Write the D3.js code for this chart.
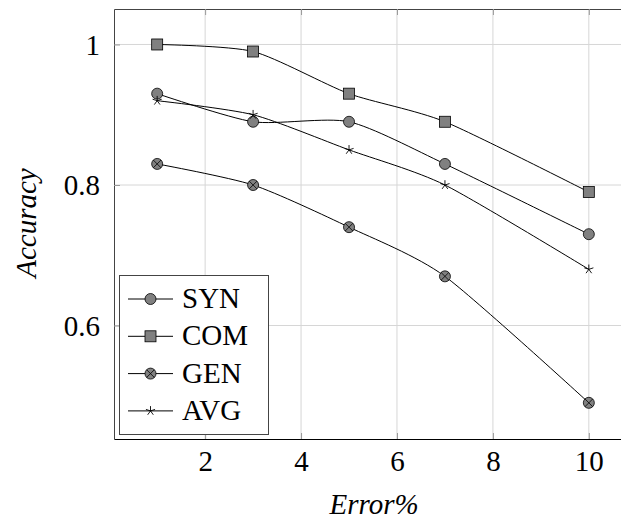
<!DOCTYPE html>
<html>
<head>
<meta charset="utf-8">
<script src="https://cdn.jsdelivr.net/npm/d3@7"></script>
<style>
body { margin: 0; background: #fff; }
</style>
</head>
<body>
<div id="chart"></div>
<script>
// values
const errors = [1, 3, 5, 7, 10];
const syn = [0.93, 0.89, 0.89, 0.83, 0.73];
const com = [1.0, 0.99, 0.93, 0.89, 0.79];
const gen = [0.83, 0.80, 0.74, 0.67, 0.49];
const avg = [0.92, 0.90, 0.85, 0.80, 0.68];
const names = ["SYN", "COM", "GEN", "AVG"];
const xTicks = [2, 4, 6, 8, 10];
const yTicks = [0.6, 0.8, 1];

const w = 621, h = 520;
const padL = 114, padT = 9, padR = 632, padB = 439;
const serif = "'Liberation Serif', 'DejaVu Serif', serif";
const fs = 29;

const svg = d3.select("#chart").append("svg")
    .attr("width", w)
    .attr("height", h);

const xScale = d3.scaleLinear().domain([0.1, 10.9]).range([padL, padR]);
const yScale = d3.scaleLinear().domain([0.4385, 1.0505]).range([padB, padT]);

// grid
svg.append("g").selectAll("line").data(xTicks).enter().append("line")
    .attr("x1", d => xScale(d)).attr("x2", d => xScale(d))
    .attr("y1", padT).attr("y2", padB)
    .attr("stroke", "#d6d6d6").attr("stroke-width", 1);
svg.append("g").selectAll("line").data(yTicks).enter().append("line")
    .attr("x1", padL).attr("x2", padR)
    .attr("y1", d => yScale(d)).attr("y2", d => yScale(d))
    .attr("stroke", "#d6d6d6").attr("stroke-width", 1);

// axes with inward ticks
const xAxis = svg.append("g")
    .attr("transform", "translate(0," + padB + ")")
    .call(d3.axisBottom(xScale).tickValues(xTicks).tickSizeInner(-6).tickSizeOuter(0).tickFormat(d => d));
const xTop = svg.append("g")
    .attr("transform", "translate(0," + padT + ")")
    .call(d3.axisTop(xScale).tickValues(xTicks).tickSizeInner(-6).tickSizeOuter(0).tickFormat(""));
const yAxis = svg.append("g")
    .attr("transform", "translate(" + padL + ",0)")
    .call(d3.axisLeft(yScale).tickValues(yTicks).tickSizeInner(-6).tickSizeOuter(0)
        .tickFormat(d => d == 1 ? "1" : d3.format(".1f")(d)));

[xAxis, xTop, yAxis].forEach(g => {
    g.attr("font-family", serif).attr("font-size", fs);
    g.selectAll(".tick line").attr("stroke", "#999");
    g.select(".domain").attr("stroke", "#444");
    g.selectAll("text").attr("fill", "#000");
});
xAxis.select(".domain").attr("stroke", "#000");
xAxis.selectAll("text").attr("dy", null).attr("y", 32);
yAxis.selectAll("text").attr("dy", "0.34em").attr("x", -14);

// axis labels
svg.append("text")
    .attr("x", 374).attr("y", 514)
    .attr("text-anchor", "middle")
    .attr("font-family", serif)
    .attr("font-size", fs)
    .attr("font-style", "italic")
    .text("Error%");
svg.append("text")
    .attr("transform", "translate(36,223) rotate(-90)")
    .attr("text-anchor", "middle")
    .attr("font-family", serif)
    .attr("font-size", fs)
    .attr("font-style", "italic")
    .text("Accuracy");

const series = [syn, com, gen, avg];
const line = d3.line()
    .x(d => xScale(d[0]))
    .y(d => yScale(d[1]))
    .curve(d3.curveCardinal.tension(0.3));

function drawMarker(g, type) {
    if (type == 0) {
        g.append("circle").attr("r", 5.5).attr("fill", "#808080").attr("stroke", "#000").attr("stroke-width", 0.8);
    } else if (type == 1) {
        g.append("rect").attr("x", -5.5).attr("y", -5.5).attr("width", 11).attr("height", 11)
            .attr("fill", "#808080").attr("stroke", "#000").attr("stroke-width", 0.8);
    } else if (type == 2) {
        g.append("circle").attr("r", 5.5).attr("fill", "#808080").attr("stroke", "#000").attr("stroke-width", 0.8);
        const r = 5.5 * Math.SQRT1_2;
        g.append("path").attr("d", `M${-r},${-r}L${r},${r}M${-r},${r}L${r},${-r}`)
            .attr("stroke", "#000").attr("stroke-width", 0.8);
    } else {
        const p = [];
        for (let k = 0; k < 5; k++) {
            const a = -Math.PI / 2 + k * 2 * Math.PI / 5;
            p.push(`M0,0L${4.8 * Math.cos(a)},${4.8 * Math.sin(a)}`);
        }
        g.append("path").attr("d", p.join("")).attr("stroke", "#000").attr("stroke-width", 0.9).attr("fill", "none");
    }
}

series.forEach((vals, i) => {
    const pts = errors.map((e, j) => [e, vals[j]]);
    svg.append("path")
        .attr("d", line(pts))
        .attr("fill", "none")
        .attr("stroke", "#000")
        .attr("stroke-width", 1);
    pts.forEach(p => {
        const g = svg.append("g").attr("transform", "translate(" + xScale(p[0]) + "," + yScale(p[1]) + ")");
        drawMarker(g, i);
    });
});

// legend
const lg = svg.append("g");
lg.append("rect")
    .attr("x", 119.5).attr("y", 275.5).attr("width", 149).attr("height", 159)
    .attr("fill", "#fff").attr("stroke", "#444").attr("stroke-width", 1);
names.forEach((n, i) => {
    const y = 299 + i * 37.3;
    lg.append("line").attr("x1", 128).attr("x2", 173).attr("y1", y).attr("y2", y)
        .attr("stroke", "#000").attr("stroke-width", 1);
    drawMarker(lg.append("g").attr("transform", "translate(150.5," + y + ")"), i);
    lg.append("text").attr("x", 182).attr("y", y + 9)
        .attr("font-family", serif)
        .attr("font-size", fs)
        .text(n);
});
</script>
</body>
</html>
